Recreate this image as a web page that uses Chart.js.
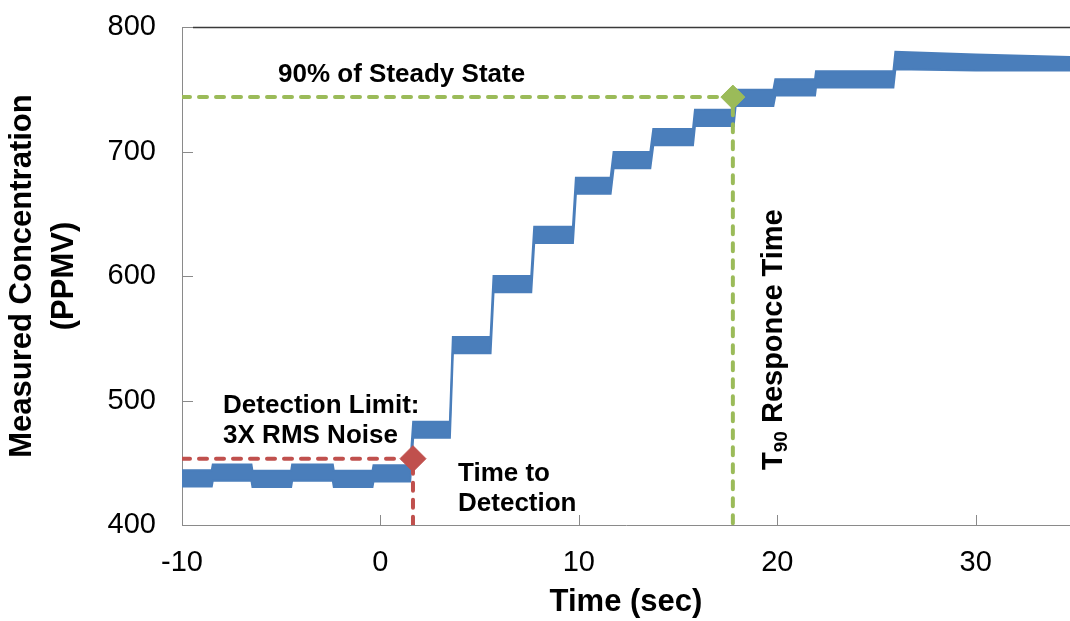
<!DOCTYPE html>
<html><head><meta charset="utf-8">
<script src="https://cdn.jsdelivr.net/npm/chart.js@4.4.1/dist/chart.umd.min.js"></script>
<style>html,body{margin:0;padding:0;background:#fff;}#wrap{width:1070px;height:621px;}</style>
</head><body><div id="wrap"><canvas id="c" width="1070" height="621"></canvas></div>
<script>
// ---- data ----
const time = [-10, -8.5, -8.45, -6.5, -6.45, -4.5, -4.45, -2.4, -2.35, -0.4, -0.35, 1.5, 1.65, 3.5, 3.65, 5.55, 5.7, 7.6, 7.75, 9.7, 9.85, 11.6, 11.75, 13.6, 13.75, 15.75, 15.85, 17.8, 17.9, 19.8, 19.9, 21.9, 21.95, 25.85, 25.95, 30, 34.75];
const bandHigh = [444, 444, 448.5, 448.5, 443.5, 443.5, 448.5, 448.5, 443.5, 443.5, 448, 448, 483, 483, 551, 551, 600, 600, 639.5, 639.5, 679, 679, 699.5, 699.5, 718, 718, 733.5, 733.5, 749.5, 749.5, 758, 758, 764.5, 764.5, 780, 778, 776];
const bandLow  = [431, 431, 435.5, 435.5, 430.5, 430.5, 435.5, 435.5, 430.5, 430.5, 435, 435, 470, 470, 538, 538, 587, 587, 626.5, 626.5, 666, 666, 686.5, 686.5, 705, 705, 720.5, 720.5, 736.5, 736.5, 745, 745, 751.5, 751.5, 766, 765, 765];
const detectionTime = [1.64];
const detectionLevel = [453.3];
const t90Time = [17.76];
const steadyLevel = [743.7];
const xTicks = [-10, 0, 10, 20, 30];
const yTicks = [400, 500, 600, 700, 800];
const xRange = [-10, 34.75];
const yRange = [400, 800];

const FONT = "'Liberation Sans', Arial, sans-serif";
const BLUE = '#4a7ebb', RED = '#c0504d', GREEN = '#9bbb59';

const pts = (xs, ys) => xs.map((v, i) => ({x: v, y: ys[i]}));

const deco = {
  id: 'deco',
  afterDatasetsDraw(chart) {
    const {ctx, chartArea: a, scales: {x, y}} = chart;
    ctx.save();
    // inward tick marks
    ctx.strokeStyle = '#8a8a8a'; ctx.lineWidth = 1;
    y.ticks.forEach(t => {
      const py = Math.round(y.getPixelForValue(t.value)) + 0.5;
      ctx.beginPath(); ctx.moveTo(a.left, py); ctx.lineTo(a.left + 11, py); ctx.stroke();
    });
    x.ticks.forEach(t => {
      const px = Math.round(x.getPixelForValue(t.value)) + 0.5;
      ctx.beginPath(); ctx.moveTo(px, a.bottom); ctx.lineTo(px, a.bottom - 10); ctx.stroke();
    });
    // dark top border
    ctx.strokeStyle = '#3a3a3a'; ctx.lineWidth = 1.6;
    ctx.beginPath(); ctx.moveTo(a.left + 11, a.top + 0.5); ctx.lineTo(a.right, a.top + 0.5); ctx.stroke();

    // annotation texts
    ctx.fillStyle = '#000';
    ctx.textBaseline = 'alphabetic';
    ctx.textAlign = 'left';
    ctx.font = 'bold 26px ' + FONT;
    const notes = [
      ['90% of Steady State', -5.16, 755.8],
      ['Detection Limit:', -7.93, 489.9],
      ['3X RMS Noise', -7.93, 465.9],
      ['Time to', 3.91, 435.3],
      ['Detection', 3.91, 411.2]
    ];
    notes.forEach(([s, vx, vy]) => ctx.fillText(s, x.getPixelForValue(vx), y.getPixelForValue(vy)));

    // vertical T90 label
    ctx.save();
    ctx.translate(x.getPixelForValue(20.24), y.getPixelForValue(444.2));
    ctx.rotate(-Math.PI / 2);
    ctx.font = 'bold 29px ' + FONT;
    ctx.fillText('T', 0, 0);
    let off = ctx.measureText('T').width;
    ctx.font = 'bold 19px ' + FONT;
    ctx.fillText('90', off, 5);
    off += ctx.measureText('90').width;
    ctx.font = 'bold 29px ' + FONT;
    ctx.fillText(' Responce Time', off, 0);
    ctx.restore();
    ctx.restore();
  }
};

new Chart(document.getElementById('c'), {
  type: 'line',
  data: {
    datasets: [
      {label: 'Detection', type: 'scatter', data: pts(detectionTime, detectionLevel),
        pointStyle: 'rectRot', pointRadius: 13, backgroundColor: RED, borderColor: RED, borderWidth: 1},
      {label: 'T90', type: 'scatter', data: pts(t90Time, steadyLevel),
        pointStyle: 'rectRot', pointRadius: 12, backgroundColor: GREEN, borderColor: GREEN, borderWidth: 1},
      {label: 'Detection limit', data: [{x: xRange[0], y: detectionLevel[0]}, {x: detectionTime[0], y: detectionLevel[0]}, {x: detectionTime[0], y: yRange[0]}],
        borderColor: RED, borderWidth: 4, borderDash: [8, 9], borderCapStyle: 'round', pointRadius: 0, fill: false},
      {label: '90% steady state', data: [{x: xRange[0], y: steadyLevel[0]}, {x: t90Time[0], y: steadyLevel[0]}, {x: t90Time[0], y: yRange[0]}],
        borderColor: GREEN, borderWidth: 4, borderDash: [8, 9], borderCapStyle: 'round', pointRadius: 0, fill: false},
      {label: 'High', data: pts(time, bandHigh), borderColor: BLUE, borderWidth: 2, pointRadius: 0, fill: false},
      {label: 'Low', data: pts(time, bandLow), borderColor: BLUE, borderWidth: 2, pointRadius: 0,
        fill: '-1', backgroundColor: BLUE}
    ]
  },
  options: {
    responsive: false,
    animation: false,
    devicePixelRatio: 1,
    layout: {autoPadding: false, padding: {top: 27, right: 0, bottom: 0, left: 0}},
    plugins: {legend: {display: false}, tooltip: {enabled: false}},
    scales: {
      x: {
        type: 'linear', min: xRange[0], max: xRange[1],
        afterBuildTicks: s => { s.ticks = xTicks.map(v => ({value: v})); },
        afterFit: s => { s.height = 96; s.paddingLeft = 0; s.paddingRight = 0; },
        grid: {display: true, color: 'rgba(0,0,0,0)', drawTicks: false},
        border: {display: true, color: '#8a8a8a', width: 1},
        ticks: {font: {family: FONT, size: 29}, color: '#000', padding: 21, maxRotation: 0},
        title: {display: true, text: 'Time (sec)', color: '#000',
          font: {family: FONT, size: 31, weight: 'bold'}, padding: {top: 0, bottom: 0}}
      },
      y: {
        type: 'linear', min: yRange[0], max: yRange[1],
        afterBuildTicks: s => { s.ticks = yTicks.map(v => ({value: v})); },
        afterFit: s => { s.width = 182; s.paddingTop = 0; s.paddingBottom = 0; },
        grid: {display: true, color: 'rgba(0,0,0,0)', drawTicks: false},
        border: {display: true, color: '#8a8a8a', width: 1},
        ticks: {font: {family: FONT, size: 29}, color: '#000', padding: 26},
        title: {display: true, text: ['Measured Concentration', '(PPMV)'], color: '#000',
          font: {family: FONT, size: 31, weight: 'bold', lineHeight: 1.35}, padding: {top: 2, bottom: 0}}
      }
    }
  },
  plugins: [deco]
});
</script>
</body></html>
